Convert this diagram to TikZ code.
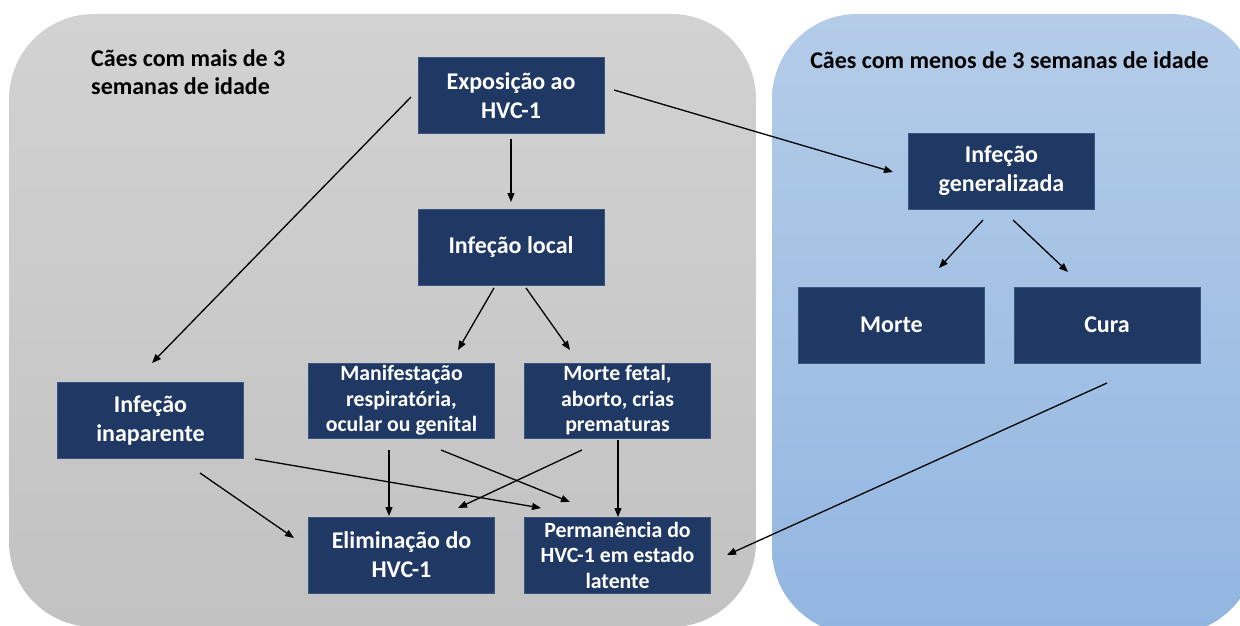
\documentclass[tikz,border=0pt]{standalone}
\usepackage{fontspec}
\setmainfont{Carlito}
\usetikzlibrary{arrows.meta,calc}
\definecolor{navy}{HTML}{1F3864}
\definecolor{navyedge}{HTML}{3A5480}
\definecolor{graytop}{HTML}{D2D2D2}
\definecolor{graybot}{HTML}{C2C2C2}
\definecolor{bluetop}{HTML}{B4CCE8}
\definecolor{bluebot}{HTML}{92B6E1}
\tikzset{
  box/.style={draw=navyedge, line width=0.8pt, fill=navy, text=white, font=\bfseries, align=center, inner sep=0pt},
  bigbox/.style={box, minimum width=186pt, minimum height=76pt, font=\bfseries\fontsize{24}{29}\selectfont},
  smallbox/.style={box, minimum width=186pt, minimum height=76pt, font=\bfseries\fontsize{21.8}{25.5}\selectfont},
  arr/.style={line width=1.3pt, -{Triangle[length=9pt,width=7pt]}},
  paneltitle/.style={font=\bfseries\fontsize{24}{28}\selectfont, text=black, inner sep=0pt}
}
\begin{document}
\begin{tikzpicture}[x=1pt,y=-1pt]
\useasboundingbox (0,0) rectangle (1240,626);
% panels
\path[top color=graytop, bottom color=graybot, rounded corners=85pt] (9,14) rectangle (756,627);
\path[top color=bluetop, bottom color=bluebot, rounded corners=85pt] (772,14) rectangle (1256,634);
% titles
\node[paneltitle, anchor=north west, align=left] (tl) at (91,49) {Cães com mais de 3\\semanas de idade};
\node[paneltitle] (tr) at (1009.5,60) {Cães com menos de 3 semanas de idade};
% boxes
\node[bigbox] (expo) at (511,95.5) {Exposição ao\\HVC-1};
\node[bigbox] (local) at (511,247) {Infeção local};
\node[bigbox] (gen) at (1001.5,171) {Infeção\\generalizada};
\node[bigbox] (morte) at (891.5,325) {Morte};
\node[bigbox] (cura) at (1107,325) {Cura};
\node[bigbox] (inap) at (150.5,420.5) {Infeção\\inaparente};
\node[smallbox, minimum height=75pt] (manif) at (401.5,400.5) {Manifestação\\respiratória,\\ocular ou genital};
\node[smallbox, minimum height=75pt] (fetal) at (617.5,400.5) {Morte fetal,\\aborto, crias\\prematuras};
\node[bigbox] (elim) at (401.5,555) {Eliminação do\\HVC-1};
\node[smallbox] (perm) at (617.5,555) {Permanência do\\HVC-1 em estado\\latente};
% arrows
\draw[arr] ($(expo)+(0,43)$) -- ($(local)+(0,-45)$);
\draw[arr] ($(expo)+(-100,1.5)$) -- ($(inap)+(1.5,-57.5)$);
\draw[arr] ($(expo)+(103,-5.5)$) -- ($(gen)+(-108.5,1)$);
\draw[arr] ($(local)+(-17,41)$) -- ($(manif)+(56.5,-50.5)$);
\draw[arr] ($(local)+(15,41)$) -- ($(fetal)+(-47.5,-50.5)$);
\draw[arr] ($(gen)+(-18.5,49)$) -- ($(morte)+(47.5,-57)$);
\draw[arr] ($(gen)+(11.5,49)$) -- ($(cura)+(-39,-53)$);
\draw[arr] ($(inap)+(49.5,52.5)$) -- ($(elim)+(-107.5,-17)$);
\draw[arr] ($(inap)+(104.5,38.5)$) -- ($(perm)+(-76.5,-47)$);
\draw[arr] ($(manif)+(-12.5,49.5)$) -- ($(elim)+(-12.5,-39)$);
\draw[arr] ($(manif)+(39.5,49.5)$) -- ($(perm)+(-47.5,-53)$);
\draw[arr] ($(fetal)+(-35.5,49.5)$) -- ($(elim)+(56.5,-47)$);
\draw[arr] ($(fetal)+(0.5,39.5)$) -- ($(perm)+(0.5,-38)$);
\draw[arr] ($(cura)+(0,58)$) -- ($(perm)+(109.5,0)$);
\end{tikzpicture}
\end{document}
